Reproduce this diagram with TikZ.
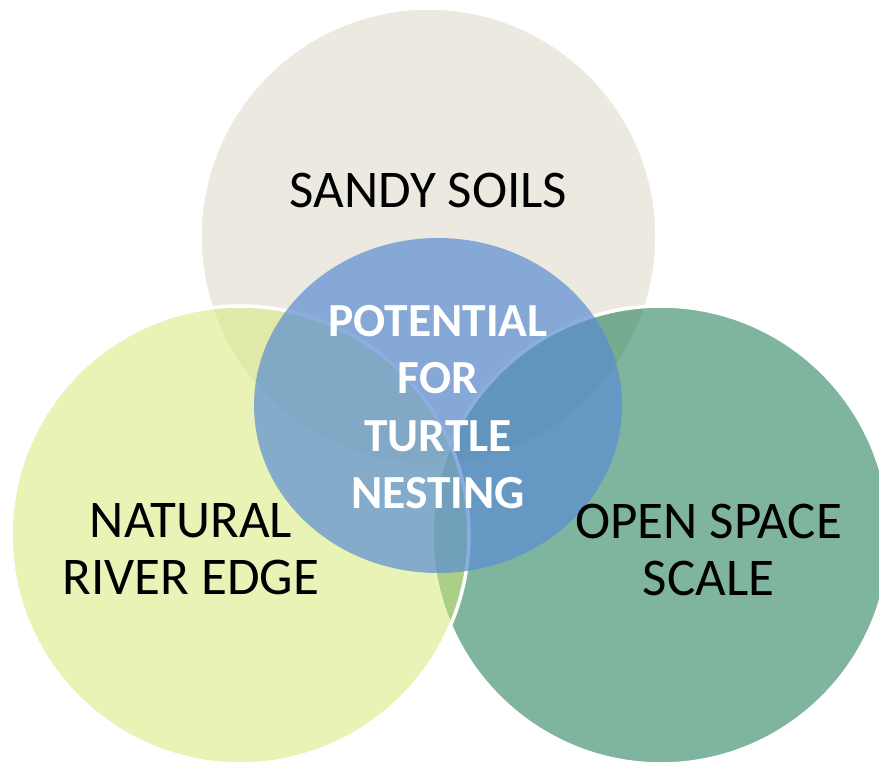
\documentclass[tikz,border=0pt]{standalone}
\usepackage{fontspec}
\setmainfont{Carlito}
\definecolor{sandclr}{RGB}{219,215,195}
\definecolor{riverclr}{RGB}{213,233,111}
\definecolor{spaceclr}{RGB}{1,109,65}
\definecolor{nestclr}{RGB}{90,141,210}
\begin{document}
\begin{tikzpicture}[x=1pt,y=-1pt,
		ring/.style={draw=white, line width=3.5pt, fill opacity=0.5},
		venntext/.style={align=center, font=\fontsize{53}{57}\selectfont}]

		\useasboundingbox (0,0) rectangle (879,766);
		\fill [white] (0,0) rectangle (879,766);

		% sandy soils
		\draw [ring, fill=sandclr] (428.5,236.5) circle [radius=228.5];
		% open space
		\draw [ring, fill=spaceclr] (661,535) circle [radius=229];
		% river edge
		\draw [ring, fill=riverclr] (240,535) circle [radius=229];
		% centre
		\fill [nestclr, fill opacity=0.7] (438,405.5) ellipse [x radius=184, y radius=167.5];

		% label
		\node [venntext] (sandy) at (428.5,190) {SANDY SOILS};
		\node [venntext] (river) at (191,549.5) {NATURAL\\RIVER EDGE};
		\node [venntext] (openspace) at (708.5,549.5) {OPEN SPACE\\SCALE};
		\node [align=center, text=white, font=\bfseries\fontsize{47.5}{57.3}\selectfont] (nesting) at (438,407) {POTENTIAL\\FOR\\TURTLE\\NESTING};
\end{tikzpicture}
\end{document}
